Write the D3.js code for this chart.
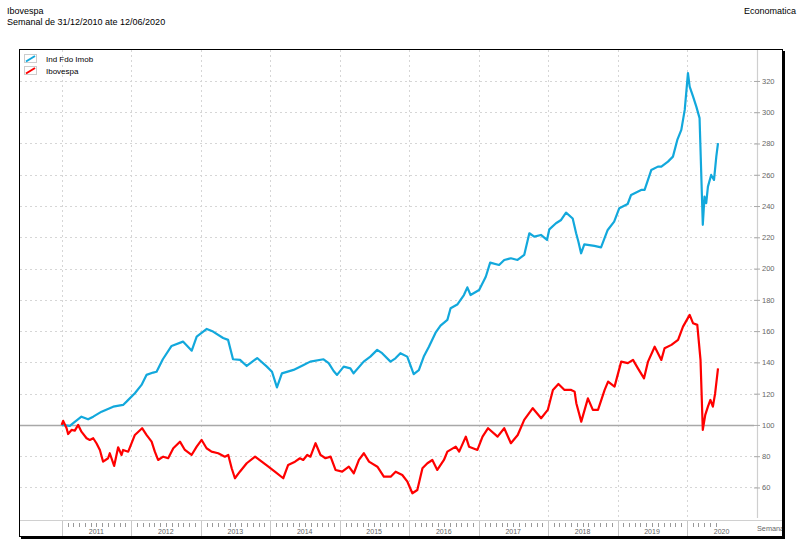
<!DOCTYPE html>
<html><head><meta charset="utf-8">
<script src="https://cdn.jsdelivr.net/npm/d3@7"></script>
<style>body{margin:0;background:#fff}svg{display:block;font-family:"Liberation Sans",Arial,sans-serif}</style>
</head><body><svg id="c" width="800" height="546"></svg>
<script>
const titleText = "Ibovespa";
const subtitleText = "Semanal de 31/12/2010 ate 12/06/2020";
const sourceText = "Economatica";
const seriesNames = ["Ind Fdo Imob", "Ibovespa"];
const seriesColors = ["#12a8dc", "#ff0000"];
const yTicks = [60, 80, 100, 120, 140, 160, 180, 200, 220, 240, 260, 280, 300, 320];
const yearLabels = ["2011","2012","2013","2014","2015","2016","2017","2018","2019","2020"];

const imobDates = ["2010-12-31","2011-02-12","2011-03-10","2011-04-14","2011-05-19","2011-06-15","2011-07-29","2011-09-28","2011-11-19","2011-12-07","2012-01-20","2012-02-24","2012-03-21","2012-04-25","2012-05-13","2012-06-15","2012-07-31","2012-09-29","2012-11-14","2012-12-10","2013-02-01","2013-03-06","2013-04-28","2013-05-24","2013-06-19","2013-07-26","2013-08-30","2013-10-24","2013-12-14","2014-01-10","2014-02-05","2014-03-03","2014-05-03","2014-06-25","2014-07-30","2014-10-08","2014-11-04","2014-11-30","2014-12-18","2015-01-22","2015-02-26","2015-03-15","2015-05-07","2015-06-11","2015-07-17","2015-08-12","2015-09-25","2015-10-21","2015-11-16","2015-12-22","2016-01-25","2016-02-21","2016-03-18","2016-04-14","2016-05-19","2016-06-14","2016-07-20","2016-08-06","2016-09-10","2016-10-15","2016-11-02","2016-11-19","2017-01-03","2017-02-07","2017-03-02","2017-04-18","2017-05-15","2017-06-19","2017-07-24","2017-08-28","2017-09-24","2017-10-20","2017-11-24","2017-12-26","2018-01-07","2018-02-11","2018-03-10","2018-04-05","2018-05-10","2018-05-28","2018-06-09","2018-06-23","2018-07-10","2018-09-01","2018-10-06","2018-11-10","2018-12-14","2019-01-10","2019-02-23","2019-03-13","2019-05-05","2019-05-23","2019-06-27","2019-08-01","2019-08-19","2019-09-23","2019-10-19","2019-11-11","2019-12-02","2019-12-20","2020-01-06","2020-01-15","2020-02-02","2020-02-19","2020-03-07","2020-03-24","2020-04-02","2020-04-11","2020-04-20","2020-05-07","2020-05-22","2020-06-03","2020-06-12"];
const imobValues = [100,99.4,102,105.3,103.6,105.3,108.5,111.7,112.8,114.9,120.3,125.6,132,133.5,134,142,150.5,153.3,147.5,156.5,161.4,159.7,155.6,154.4,142,141.6,137.7,142.8,137.3,134,124,133,135.2,138.4,140.5,142,139.5,134.5,132,137.3,136.2,133,140.5,143.7,148,145.9,140.5,142.6,145.9,143.7,132.5,135,143.7,150,159,163.5,167.2,174.6,177,183.1,188,183.1,186.3,194.8,203.8,202.3,205.5,206.6,205.5,208.7,222.6,220.4,221.5,218.3,225.1,229,231.1,235.8,232,222.6,217.2,209.8,215.5,214.5,213.6,224.7,230,238.6,241.3,247.1,250.3,250.3,263,265.2,265.2,268.4,271.6,282.3,288.7,301.5,325,316.4,310,303.6,296.2,228,246,241.8,252.4,259.9,256.7,271.6,280.2];

const iboDates = ["2010-12-31","2011-01-08","2011-01-26","2011-02-03","2011-02-21","2011-03-10","2011-03-28","2011-04-14","2011-05-11","2011-05-28","2011-06-15","2011-07-02","2011-07-20","2011-08-06","2011-09-01","2011-09-10","2011-10-03","2011-10-24","2011-11-11","2011-11-19","2011-12-16","2012-01-20","2012-02-27","2012-03-21","2012-04-17","2012-05-04","2012-05-21","2012-06-17","2012-07-13","2012-08-09","2012-09-13","2012-10-09","2012-11-13","2012-12-10","2013-01-05","2013-01-31","2013-02-26","2013-04-02","2013-05-07","2013-05-25","2013-06-12","2013-06-29","2013-07-25","2013-08-30","2013-10-13","2013-11-17","2013-12-22","2014-01-25","2014-03-10","2014-04-05","2014-05-11","2014-06-06","2014-06-23","2014-07-14","2014-07-31","2014-08-27","2014-09-22","2014-10-18","2014-11-14","2014-12-10","2015-01-14","2015-02-18","2015-03-16","2015-04-12","2015-05-08","2015-06-04","2015-07-18","2015-08-21","2015-09-26","2015-10-22","2015-11-26","2015-12-23","2016-01-18","2016-02-13","2016-03-11","2016-04-06","2016-05-02","2016-05-28","2016-07-02","2016-07-20","2016-09-02","2016-09-20","2016-10-25","2016-11-11","2016-12-25","2017-01-21","2017-02-19","2017-04-10","2017-05-15","2017-06-19","2017-07-25","2017-08-28","2017-10-12","2017-11-25","2017-12-30","2018-01-26","2018-02-24","2018-03-28","2018-05-02","2018-05-20","2018-05-29","2018-06-24","2018-07-29","2018-08-24","2018-09-20","2018-10-25","2018-11-12","2018-12-16","2019-01-20","2019-02-24","2019-03-23","2019-04-18","2019-05-20","2019-06-10","2019-07-15","2019-08-19","2019-09-05","2019-10-11","2019-11-15","2019-12-11","2020-01-15","2020-02-02","2020-02-24","2020-03-12","2020-03-24","2020-04-06","2020-04-20","2020-05-03","2020-05-16","2020-05-28","2020-06-12"];
const iboValues = [100,102.6,97.9,94.2,96.8,96.4,100,95.7,91.5,90.4,91.5,88.3,84,76.5,78.7,81.9,73.8,85.7,80.8,84,82.9,93.6,97.9,93.6,89.3,82.9,77.6,79.7,78.7,85.1,89.3,84,80.8,86.1,90.4,85.1,82.9,81.9,79.7,80.8,72.3,65.9,70.1,75.5,79.7,76.5,73.3,70.1,65.9,74.4,76.5,78.7,77.6,80.8,79.7,88.3,80.8,78.7,79.7,71.2,70.1,73.3,69.1,77.6,81.9,76.5,73.3,66.9,66.9,70.1,68,63.7,56.3,58.4,72.3,75.5,77.6,71.2,77.6,82.9,86.1,82.9,92.5,86.1,84,92.5,97.9,92.5,97.9,88.3,93.6,103.2,110.7,104.3,109.6,122.4,126.2,122.4,122.4,121.3,113.9,102.1,117,109.6,109.6,122.4,127.7,124.5,140.5,139.5,141.6,136.2,129.8,140.5,150,141.6,149,151.2,154.4,162.9,170.4,165,164,141.6,96.8,106.4,111.7,116,111.7,120.3,136.2];

const parse = d3.timeParse("%Y-%m-%d");
const svg = d3.select("#c");
const L = 20, R = 757, T = 50, B = 520;
const x = d3.scaleTime().domain([new Date(2010,4,26), new Date(2021,0,3)]).range([L, R]);
const y = d3.scaleLinear().domain([39.2, 339.8]).range([B, T]);

// titles
svg.append("text").attr("x",7).attr("y",14).attr("font-size",9).attr("fill","#000").text(titleText);
svg.append("text").attr("x",7).attr("y",25).attr("font-size",9).attr("fill","#000").text(subtitleText);
svg.append("text").attr("x",796).attr("y",14).attr("font-size",9).attr("text-anchor","end").attr("fill","#000").text(sourceText);

// grid
const yearStarts = yearLabels.map(yl => new Date(+yl,0,1));
const g = svg.append("g");
g.selectAll(".hg").data(yTicks.filter(v=>v!==100)).join("line")
  .attr("x1",L).attr("x2",R).attr("y1",d=>Math.round(y(d))+0.5).attr("y2",d=>Math.round(y(d))+0.5)
  .attr("stroke","#d6d6d6").attr("stroke-dasharray","2,3");
g.selectAll(".vg").data(yearStarts).join("line")
  .attr("x1",d=>Math.round(x(d))+0.5).attr("x2",d=>Math.round(x(d))+0.5).attr("y1",T).attr("y2",B)
  .attr("stroke","#d6d6d6").attr("stroke-dasharray","2,3");
g.append("line").attr("x1",L).attr("x2",R-3).attr("y1",Math.round(y(100))+0.5).attr("y2",Math.round(y(100))+0.5)
  .attr("stroke","#a8a8a8").attr("stroke-width",1.5);

// y axis (right)
svg.append("line").attr("x1",R+0.5).attr("x2",R+0.5).attr("y1",T).attr("y2",B-2).attr("stroke","#cfcfcf").attr("stroke-width",1.2);
const yAx = svg.append("g").attr("transform",`translate(${R},0)`)
  .call(d3.axisRight(y).tickValues(yTicks).tickSize(3).tickPadding(2));
yAx.select(".domain").remove();
yAx.selectAll(".tick line").attr("stroke","#aaa").attr("x1",-3);
yAx.selectAll(".tick text").attr("fill","#666").attr("font-size",7.5).attr("font-family","Liberation Sans, Arial, sans-serif");

// x axis
svg.append("line").attr("x1",L).attr("x2",782).attr("y1",B+0.5).attr("y2",B+0.5).attr("stroke","#d0d0d0").attr("stroke-width",1.2);
const xEnd = parse("2020-06-12");
const months = d3.timeMonth.range(new Date(2011,0,1), xEnd).filter(d=>d.getMonth()!==0);
svg.append("g").selectAll("line").data(months).join("line")
  .attr("x1",d=>Math.round(x(d))+0.5).attr("x2",d=>Math.round(x(d))+0.5).attr("y1",B+3).attr("y2",B+7)
  .attr("stroke","#999");
svg.append("g").selectAll("line").data(yearStarts).join("line")
  .attr("x1",d=>Math.round(x(d))+0.5).attr("x2",d=>Math.round(x(d))+0.5).attr("y1",B+1).attr("y2",537)
  .attr("stroke","#c8c8c8");
svg.append("g").selectAll("text").data(yearLabels).join("text")
  .attr("x",d=>x(new Date(+d,6,1))).attr("y",534).attr("text-anchor","middle")
  .attr("font-size",7).attr("fill","#666").text(d=>d);
svg.append("text").attr("x",757).attr("y",531).attr("font-size",7.3).attr("fill","#666").text("Semana");

// lines
const series = [
  {name: seriesNames[0], color: seriesColors[0], pts: imobDates.map((d,i)=>({d:parse(d), v:imobValues[i]}))},
  {name: seriesNames[1], color: seriesColors[1], pts: iboDates.map((d,i)=>({d:parse(d), v:iboValues[i]}))}
];
const line = d3.line().x(p=>x(p.d)).y(p=>y(p.v)).curve(d3.curveLinear);
svg.append("g").selectAll("path").data(series).join("path")
  .attr("d",s=>line(s.pts)).attr("fill","none").attr("stroke",s=>s.color).attr("stroke-width",2.2)
  .attr("stroke-linejoin","round");

// legend
const lg = svg.append("g");
series.forEach((s,i)=>{
  const yy = 54 + i*12;
  lg.append("rect").attr("x",24.5).attr("y",yy+0.5).attr("width",12).attr("height",8).attr("fill","#fff").attr("stroke","#ccc");
  lg.append("line").attr("x1",26).attr("y1",yy+7.5).attr("x2",35).attr("y2",yy+2).attr("stroke",s.color).attr("stroke-width",2);
  lg.append("text").attr("x",46).attr("y",yy+7.5).attr("font-size",8).attr("fill","#000").text(s.name);
});

// frame
svg.append("rect").attr("x",19.5).attr("y",49.5).attr("width",763).attr("height",487).attr("fill","none").attr("stroke","#000");
svg.append("line").attr("x1",784).attr("x2",784).attr("y1",51).attr("y2",539).attr("stroke","#000").attr("stroke-width",2);
svg.append("line").attr("x1",21).attr("x2",785).attr("y1",538).attr("y2",538).attr("stroke","#000").attr("stroke-width",2);
</script></body></html>
